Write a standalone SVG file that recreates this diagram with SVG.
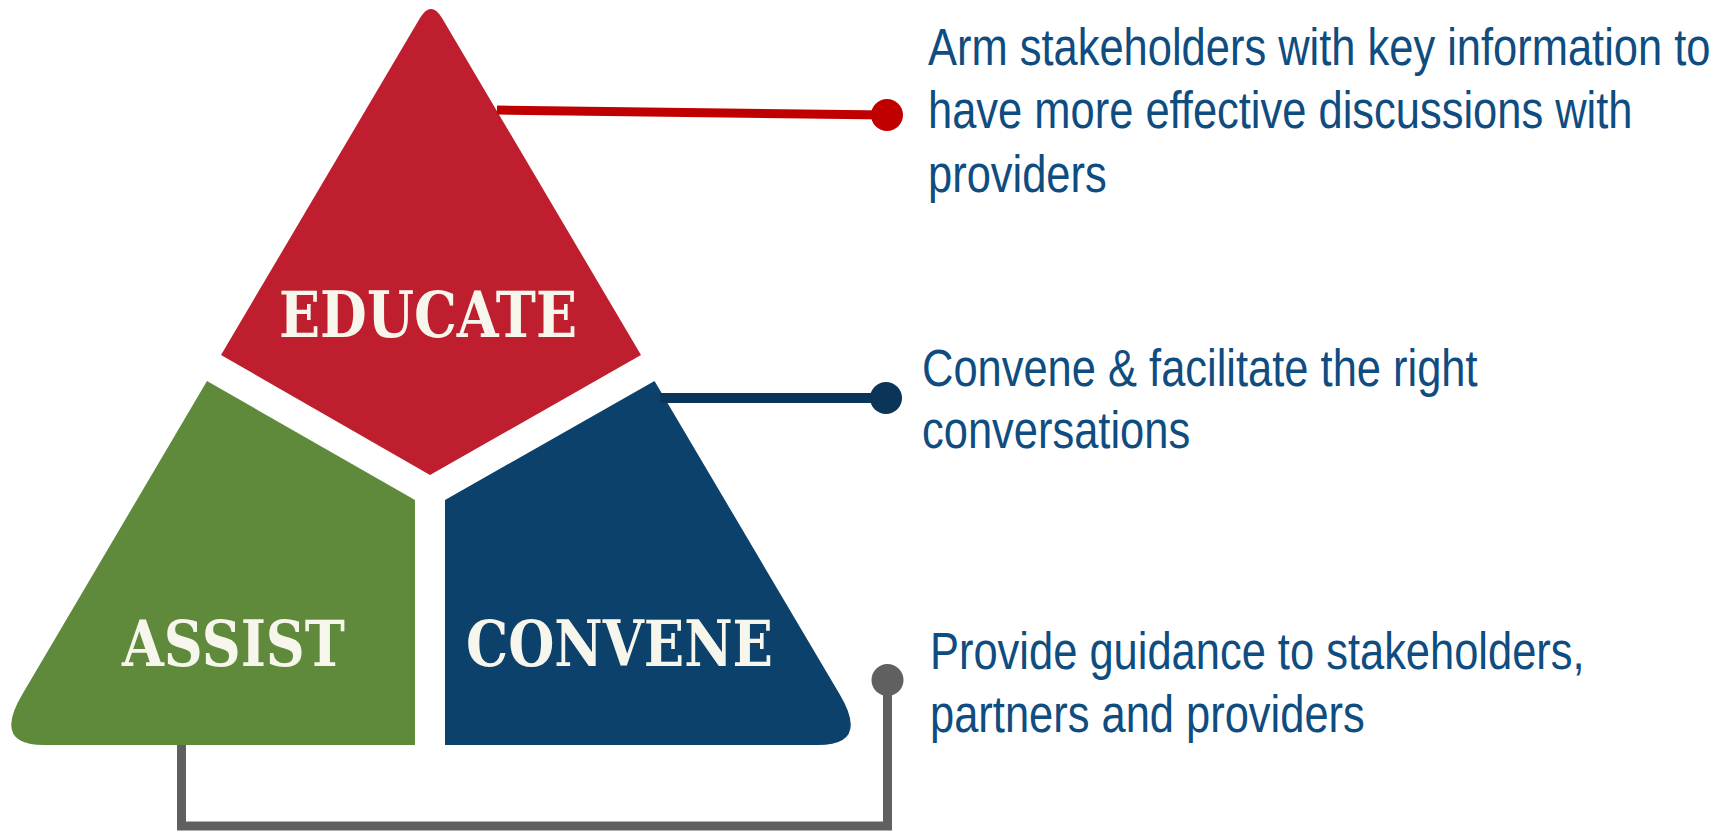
<svg xmlns="http://www.w3.org/2000/svg" width="1732" height="832" viewBox="0 0 1732 832">
<style>
.lbl{font-family:"DejaVu Serif","Liberation Serif",serif;font-weight:bold;font-size:64px;fill:#F7F6EC}
.txt{font-family:"Liberation Sans",Arial,sans-serif;font-size:52px;fill:#0F4C80}
.conn{fill:none;stroke-linecap:butt;stroke-linejoin:miter}
</style>
<rect width="1732" height="832" fill="#FFFFFF"/>
<g id="educate">
<path d="M420,18 Q431,0 442,18 L641,355 L430,475 L221,355 Z" fill="#BE1E2D"/>
<text class="lbl" x="279" y="337" textLength="298" lengthAdjust="spacingAndGlyphs">EDUCATE</text>
</g>
<g id="assist">
<path d="M207,381 L415,500 L415,745 L44,745 Q-8,745 22.5,694 Z" fill="#5F8A3B"/>
<text class="lbl" x="122" y="666" textLength="223" lengthAdjust="spacingAndGlyphs">ASSIST</text>
</g>
<g id="convene">
<path d="M654.5,381 L445,500 L445,745 L818,745 Q870,745 839.5,694 Z" fill="#0C416B"/>
<text class="lbl" x="466" y="666" textLength="307" lengthAdjust="spacingAndGlyphs">CONVENE</text>
</g>
<g id="connectors">
<line class="conn" x1="497" y1="110" x2="887" y2="115" stroke="#C00000" stroke-width="9"/>
<circle cx="887" cy="115" r="16" fill="#C00000"/>
<line class="conn" x1="660" y1="398" x2="886" y2="398" stroke="#0A3558" stroke-width="10"/>
<circle cx="886" cy="398" r="16" fill="#0A3558"/>
<path class="conn" d="M181.5,745 V826 H887.5 V679" stroke="#606060" stroke-width="9"/>
<circle cx="887.5" cy="680" r="16" fill="#606060"/>
</g>
<g id="desc-educate" transform="translate(928 0) scale(0.836 1)">
<text class="txt" x="0" y="65">Arm stakeholders with key information to</text>
<text class="txt" x="0" y="128">have more effective discussions with</text>
<text class="txt" x="0" y="192">providers</text>
</g>
<g id="desc-convene" transform="translate(922 0) scale(0.836 1)">
<text class="txt" x="0" y="386">Convene &amp; facilitate the right</text>
<text class="txt" x="0" y="448">conversations</text>
</g>
<g id="desc-assist" transform="translate(930 0) scale(0.836 1)">
<text class="txt" x="0" y="669">Provide guidance to stakeholders,</text>
<text class="txt" x="0" y="732">partners and providers</text>
</g>
</svg>
